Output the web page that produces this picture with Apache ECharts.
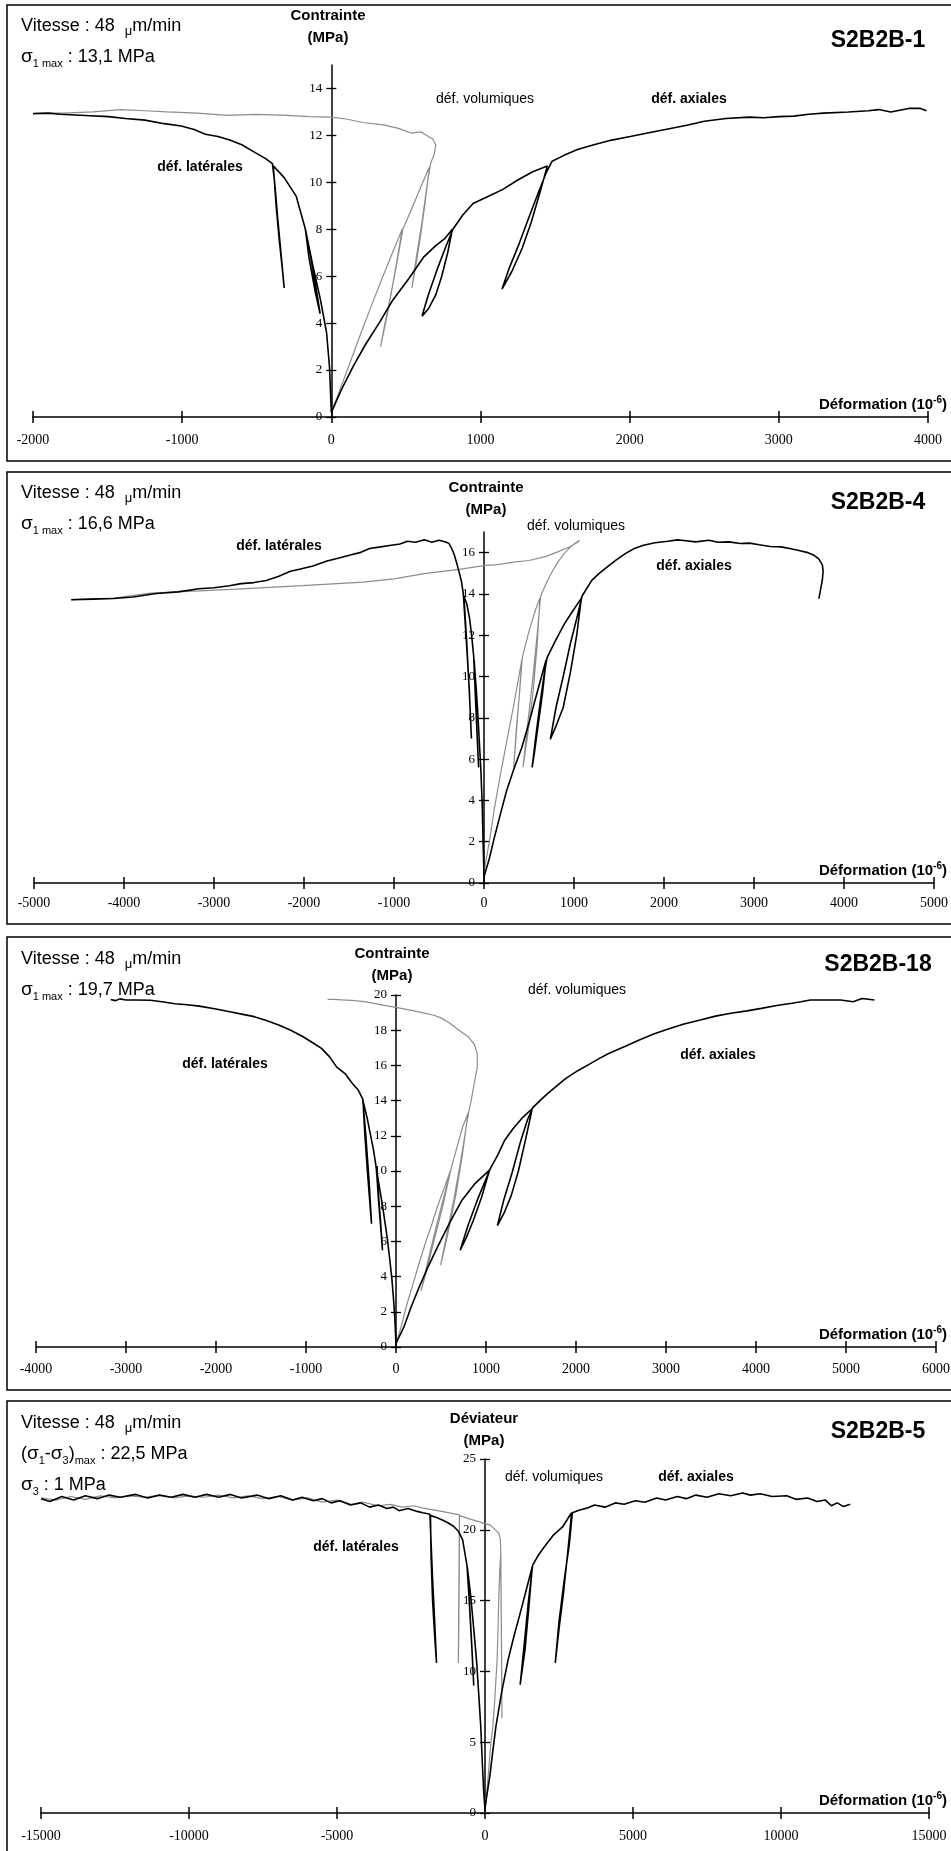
<!DOCTYPE html>
<html><head><meta charset="utf-8">
<script src="https://cdn.jsdelivr.net/npm/echarts@6/dist/echarts.min.js"></script>
<style>html,body{margin:0;padding:0;background:#fff}#c{width:951px;height:1851px}</style>
</head><body><div id="c"></div>
<script>
// ---------------- DATA ----------------
// Panel 1 : S2B2B-1  (strain 1e-6, stress MPa)
const p1XRange = [-2000, 4000, 1000];
const p1YTicks = [0,2,4,6,8,10,12,14];
const p1Lateral = [[0,0.2],[-12,2.1],[-32,3.6],[-73,5.0],[-122,6.4],[-174,8.0],[-150,6.8],[-110,5.4],[-75,4.4],[-95,5.2],[-140,6.9],[-178,8.1],[-235,9.4],[-316,10.2],[-389,10.7],[-370,9.0],[-350,7.6],[-330,6.4],[-316,5.5],[-335,6.8],[-360,8.5],[-380,10.0],[-395,10.8],[-438,11.0],[-519,11.3],[-600,11.6],[-681,11.8],[-760,11.95],[-844,12.05],[-920,12.25],[-1006,12.4],[-1120,12.5],[-1250,12.65],[-1380,12.72],[-1493,12.8],[-1650,12.85],[-1817,12.9],[-1900,12.95],[-2000,12.92]];
const p1Volumetric = [[0,0.2],[60,1.2],[130,2.4],[200,3.6],[272,4.8],[340,5.9],[410,7.0],[475,8.0],[430,6.3],[380,4.5],[330,3.0],[360,4.0],[420,5.9],[480,8.0],[540,8.9],[600,9.8],[657,10.65],[630,9.2],[600,7.8],[570,6.6],[540,5.5],[570,6.8],[610,8.4],[640,9.8],[665,10.8],[690,11.2],[700,11.6],[680,11.85],[640,12.0],[600,12.15],[535,12.1],[450,12.3],[350,12.45],[211,12.55],[100,12.7],[0,12.78],[-150,12.8],[-300,12.85],[-500,12.9],[-700,12.85],[-900,12.95],[-1100,13.0],[-1250,13.05],[-1412,13.1],[-1600,13.0],[-1800,12.95],[-2000,12.95]];
const p1Axial = [[0,0.2],[70,1.2],[150,2.2],[230,3.1],[320,4.0],[414,5.0],[520,5.9],[617,6.8],[700,7.3],[760,7.6],[811,8.0],[780,7.0],[740,6.0],[700,5.2],[650,4.6],[608,4.3],[650,5.2],[710,6.3],[770,7.3],[815,8.0],[880,8.6],[950,9.1],[1050,9.4],[1150,9.7],[1250,10.1],[1350,10.45],[1448,10.7],[1400,9.6],[1340,8.3],[1280,7.2],[1210,6.2],[1144,5.45],[1190,6.3],[1260,7.4],[1330,8.6],[1390,9.6],[1440,10.4],[1480,10.9],[1560,11.15],[1650,11.4],[1760,11.6],[1880,11.8],[2004,11.95],[2120,12.1],[2240,12.25],[2400,12.45],[2500,12.6],[2645,12.72],[2800,12.78],[2900,12.75],[3000,12.8],[3100,12.82],[3200,12.9],[3300,12.95],[3466,13.0],[3600,13.05],[3670,13.1],[3750,13.0],[3870,13.15],[3950,13.15],[3990,13.05]];

// Panel 2 : S2B2B-4
const p2XRange = [-5000, 5000, 1000];
const p2YTicks = [0,2,4,6,8,10,12,14,16];
const p2Lateral = [[0,0.3],[-10,2.0],[-20,3.8],[-35,5.5],[-54,7.0],[-70,8.3],[-88,9.5],[-110,10.8],[-90,8.5],[-70,6.5],[-60,5.6],[-80,7.5],[-100,9.5],[-115,11.0],[-135,11.9],[-160,12.8],[-190,13.5],[-223,13.9],[-190,11.5],[-160,9.0],[-140,7.0],[-165,9.5],[-200,12.0],[-230,14.0],[-250,14.6],[-291,15.3],[-330,15.9],[-359,16.2],[-390,16.45],[-426,16.52],[-500,16.6],[-580,16.5],[-663,16.62],[-760,16.5],[-850,16.55],[-934,16.42],[-1050,16.35],[-1150,16.28],[-1272,16.2],[-1380,16.0],[-1475,15.9],[-1600,15.75],[-1745,15.6],[-1900,15.35],[-2050,15.2],[-2151,15.1],[-2286,14.85],[-2420,14.65],[-2557,14.55],[-2700,14.5],[-2828,14.4],[-3000,14.3],[-3166,14.25],[-3400,14.1],[-3640,14.02],[-3900,13.85],[-4113,13.78],[-4350,13.75],[-4587,13.72]];
const p2Volumetric = [[0,0.3],[14,0.9],[60,2.0],[115,3.6],[180,5.2],[250,6.8],[330,8.6],[420,10.8],[390,9.0],[360,7.3],[330,5.6],[360,7.5],[395,9.2],[425,10.9],[500,12.2],[570,13.2],[622,13.8],[590,11.5],[540,9.0],[480,7.0],[433,5.6],[480,7.5],[540,9.8],[590,12.0],[630,13.9],[700,14.6],[760,15.1],[830,15.6],[900,16.0],[980,16.35],[1040,16.5],[1062,16.6],[961,16.3],[800,16.0],[690,15.82],[500,15.62],[352,15.55],[150,15.42],[14,15.38],[-257,15.2],[-663,14.98],[-1000,14.73],[-1340,14.57],[-2016,14.4],[-2693,14.25],[-3166,14.15],[-3708,14.04],[-4113,13.8],[-4587,13.72]];
const p2Axial = [[0,0.3],[60,1.2],[115,2.2],[180,3.3],[250,4.45],[330,5.5],[420,6.56],[490,7.6],[555,8.66],[620,9.7],[690,10.8],[650,9.2],[600,7.6],[560,6.3],[535,5.6],[570,6.9],[620,8.6],[665,10.0],[700,10.9],[790,11.7],[893,12.55],[990,13.2],[1082,13.8],[1030,12.0],[960,10.2],[880,8.5],[800,7.6],[737,6.96],[800,8.5],[880,10.0],[960,11.6],[1030,12.8],[1090,13.9],[1197,14.66],[1280,15.0],[1367,15.3],[1470,15.65],[1570,15.95],[1670,16.2],[1773,16.36],[1900,16.48],[2043,16.55],[2150,16.62],[2246,16.58],[2350,16.52],[2500,16.6],[2600,16.5],[2720,16.52],[2850,16.44],[2950,16.46],[3058,16.38],[3180,16.3],[3300,16.28],[3396,16.2],[3500,16.1],[3600,16.0],[3667,15.87],[3720,15.7],[3760,15.4],[3768,15.1],[3760,14.7],[3748,14.4],[3721,13.77]];

// Panel 3 : S2B2B-18
const p3XRange = [-4000, 6000, 1000];
const p3YTicks = [0,2,4,6,8,10,12,14,16,18,20];
const p3Lateral = [[0,0.2],[-14,1.7],[-30,2.9],[-48,4.0],[-70,5.0],[-95,6.1],[-120,7.0],[-149,8.0],[-185,9.1],[-217,10.1],[-195,8.4],[-170,6.8],[-150,5.5],[-170,7.0],[-195,8.7],[-220,10.2],[-250,11.2],[-285,12.1],[-320,13.0],[-367,14.0],[-345,12.0],[-318,10.0],[-295,8.5],[-272,7.0],[-300,9.5],[-335,12.0],[-370,14.1],[-420,14.6],[-489,15.0],[-560,15.5],[-658,15.9],[-740,16.5],[-828,16.97],[-930,17.3],[-1032,17.63],[-1170,18.0],[-1303,18.3],[-1440,18.55],[-1575,18.77],[-1700,18.9],[-1847,19.05],[-2000,19.2],[-2186,19.37],[-2320,19.45],[-2458,19.5],[-2600,19.62],[-2730,19.7],[-2900,19.72],[-3000,19.72],[-3069,19.78],[-3120,19.68],[-3170,19.75]];
const p3Volumetric = [[0,0.2],[54,1.1],[120,2.4],[190,3.6],[260,4.8],[326,5.9],[400,7.0],[462,8.0],[540,9.1],[611,10.1],[520,8.0],[420,6.0],[340,4.3],[278,3.2],[350,4.8],[450,6.9],[540,8.7],[615,10.2],[680,11.4],[740,12.5],[801,13.3],[740,11.0],[670,8.8],[600,7.0],[540,5.6],[496,4.65],[560,6.3],[640,8.3],[720,10.6],[780,12.5],[810,13.4],[835,14.0],[870,15.0],[903,15.9],[903,16.68],[870,17.2],[801,17.63],[700,18.0],[598,18.4],[500,18.7],[420,18.85],[326,18.96],[200,19.1],[100,19.2],[0,19.3],[-100,19.38],[-217,19.5],[-350,19.62],[-489,19.7],[-600,19.72],[-700,19.75],[-760,19.75]];
const p3Axial = [[0,0.2],[88,1.14],[170,2.3],[258,3.41],[360,4.6],[462,5.69],[600,7.1],[733,8.34],[880,9.3],[1039,10.05],[950,8.5],[860,7.2],[780,6.2],[713,5.5],[800,6.9],[900,8.3],[980,9.3],[1045,10.1],[1130,10.9],[1208,11.75],[1300,12.4],[1400,13.0],[1514,13.55],[1440,11.8],[1360,10.0],[1280,8.6],[1200,7.6],[1127,6.9],[1200,8.4],[1290,9.9],[1380,11.6],[1460,12.9],[1520,13.6],[1600,14.0],[1684,14.4],[1790,14.85],[1888,15.26],[2020,15.7],[2160,16.1],[2260,16.4],[2363,16.68],[2530,17.05],[2703,17.44],[2870,17.8],[3042,18.1],[3200,18.35],[3381,18.58],[3550,18.8],[3721,18.96],[3900,19.1],[4060,19.24],[4230,19.4],[4400,19.53],[4500,19.62],[4603,19.72],[4800,19.72],[4942,19.72],[5078,19.62],[5180,19.8],[5316,19.72]];

// Panel 4 : S2B2B-5 (deviator)
const p4XRange = [-15000, 15000, 5000];
const p4YTicks = [0,5,10,15,20,25];
const p4Lateral = [[0,0.3],[-41,1.4],[-90,3.5],[-143,6.1],[-215,8.5],[-287,10.8],[-380,13.0],[-491,15.5],[-600,17.4],[-520,14.5],[-440,11.5],[-380,9.0],[-450,12.0],[-530,15.0],[-610,17.5],[-700,18.6],[-757,19.3],[-900,19.9],[-1064,20.25],[-1300,20.55],[-1500,20.75],[-1679,20.9],[-1843,21.0],[-1820,18.0],[-1770,15.0],[-1700,12.5],[-1638,10.6],[-1700,13.5],[-1770,16.5],[-1830,19.5],[-1860,21.1],[-2100,21.2],[-2293,21.3],[-2600,21.5],[-2900,21.35],[-3100,21.6],[-3316,21.5],[-3600,21.75],[-3900,21.6],[-4200,21.9],[-4545,21.75],[-4900,22.05],[-5200,21.9],[-5500,22.2],[-5800,22.05],[-6182,22.3],[-6500,22.1],[-6900,22.4],[-7300,22.2],[-7700,22.45],[-8229,22.25],[-8600,22.5],[-9000,22.3],[-9400,22.5],[-9800,22.3],[-10200,22.5],[-10600,22.3],[-11000,22.45],[-11400,22.25],[-11800,22.5],[-12323,22.3],[-12700,22.45],[-13100,22.2],[-13500,22.4],[-13900,22.1],[-14300,22.35],[-14700,22.0],[-15000,22.2]];
const p4Volumetric = [[0,0.3],[60,1.4],[123,3.0],[200,5.0],[266,6.1],[330,8.0],[409,10.8],[440,13.0],[470,15.5],[500,17.2],[532,18.35],[545,14.5],[560,10.5],[573,6.7],[565,10.0],[550,14.0],[535,18.4],[520,19.3],[470,19.76],[300,20.1],[164,20.35],[-50,20.45],[-246,20.6],[-500,20.75],[-860,21.0],[-870,17.0],[-885,13.0],[-900,10.6],[-890,14.0],[-875,18.0],[-865,21.05],[-1200,21.2],[-1600,21.35],[-2088,21.53],[-2400,21.7],[-2800,21.6],[-3200,21.8],[-3600,21.7],[-4135,21.95],[-4500,21.8],[-5000,22.1],[-5500,21.95],[-6000,22.25],[-6500,22.1],[-7000,22.35],[-7500,22.2],[-8000,22.4],[-8500,22.25],[-9000,22.45],[-9500,22.3],[-10000,22.4],[-10500,22.25],[-11000,22.45],[-11500,22.3],[-12000,22.4],[-12500,22.25],[-13000,22.4],[-13500,22.15],[-14000,22.35],[-14500,22.1],[-15000,22.25]];
const p4Axial = [[0,0.3],[80,1.5],[164,2.6],[260,4.3],[368,6.1],[560,8.5],[778,10.8],[980,12.5],[1187,14.1],[1400,15.8],[1597,17.4],[1480,14.5],[1350,11.5],[1187,9.06],[1330,12.0],[1470,15.0],[1610,17.5],[1800,18.2],[2006,18.8],[2300,19.6],[2620,20.2],[2800,20.8],[2927,21.2],[2800,18.5],[2650,15.5],[2500,13.0],[2374,10.6],[2500,13.5],[2680,16.5],[2850,19.0],[2950,21.2],[3200,21.4],[3439,21.53],[3700,21.75],[4053,21.6],[4400,21.9],[4700,21.8],[5077,22.05],[5400,21.95],[5800,22.25],[6100,22.1],[6500,22.35],[6800,22.2],[7124,22.45],[7500,22.3],[7900,22.55],[8300,22.4],[8700,22.6],[8966,22.45],[9300,22.55],[9700,22.35],[10194,22.4],[10500,22.15],[10900,22.25],[11218,22.0],[11500,22.1],[11700,21.7],[11900,21.9],[12100,21.65],[12343,21.8]];

// ---------------- LAYOUT ----------------
const SANS = '"Liberation Sans", Arial, Helvetica, sans-serif';
const SERIF = '"Liberation Serif", "Times New Roman", serif';
const panels = [
  {grid:{left:33, top:65, width:895, height:352}, xr:p1XRange, yMax:15, yt:p1YTicks, xm:16, lat:p1Lateral, vol:p1Volumetric, ax:p1Axial},
  {grid:{left:34, top:532, width:900, height:351}, xr:p2XRange, yMax:17, yt:p2YTicks, xm:13, lat:p2Lateral, vol:p2Volumetric, ax:p2Axial},
  {grid:{left:36, top:995, width:900, height:352}, xr:p3XRange, yMax:20, yt:p3YTicks, xm:15, lat:p3Lateral, vol:p3Volumetric, ax:p3Axial},
  {grid:{left:41, top:1459, width:888, height:354}, xr:p4XRange, yMax:25, yt:p4YTicks, xm:16, lat:p4Lateral, vol:p4Volumetric, ax:p4Axial}
];

const grids = [], xAxes = [], yAxes = [], series = [];
const lineC = '#000';
function makeY(p, i, offset) {
  const yBase = {gridIndex:i, type:'value', min:0, max:p.yMax, splitLine:{show:false}, position:'left', offset:offset};
  return [
    Object.assign({}, yBase, {
      axisLine:{show:true, onZero:false, lineStyle:{color:lineC, width:1.5}},
      axisTick:{show:true, inside:false, length:5, customValues:p.yt, lineStyle:{color:lineC, width:1.3}},
      axisLabel:{show:true, margin:9, color:'#000', fontFamily:SERIF, fontSize:13, customValues:p.yt, formatter:v => String(v)}
    }),
    Object.assign({}, yBase, {
      axisLine:{show:false, onZero:false},
      axisTick:{show:true, inside:true, length:5, customValues:p.yt, lineStyle:{color:lineC, width:1.3}},
      axisLabel:{show:false}
    })
  ];
}
panels.forEach((p, i) => {
  grids.push(Object.assign({outerBoundsMode:'none', containLabel:false}, p.grid));
  const xBase = {gridIndex:i, type:'value', min:p.xr[0], max:p.xr[1], interval:p.xr[2], splitLine:{show:false}, position:'bottom'};
  xAxes.push(Object.assign({}, xBase, {
    axisLine:{show:true, onZero:false, lineStyle:{color:lineC, width:1.5}},
    axisTick:{show:true, inside:false, length:6, lineStyle:{color:lineC, width:1.5}},
    axisLabel:{show:true, margin:p.xm, color:'#000', fontFamily:SERIF, fontSize:14, formatter:v => String(v)}
  }));
  xAxes.push(Object.assign({}, xBase, {
    axisLine:{show:false, onZero:false},
    axisTick:{show:true, inside:true, length:6, lineStyle:{color:lineC, width:1.5}},
    axisLabel:{show:false}
  }));
  makeY(p, i, 0).forEach(a => yAxes.push(a));
  const mk = (name, data, color, width) => ({
    type:'line', name, xAxisIndex:2*i, yAxisIndex:2*i, data, showSymbol:false, symbol:'none',
    lineStyle:{color, width}, silent:true, animation:false, clip:true
  });
  series.push(mk('déf. volumiques', p.vol, '#8c8c8c', 1.2));
  series.push(mk('déf. latérales', p.lat, '#000', 1.6));
  series.push(mk('déf. axiales', p.ax, '#000', 1.6));
});

// ---------------- TEXT ----------------
const richBase = {
  a:{fontSize:18, fontFamily:SANS, lineHeight:24, fill:'#000'},
  g:{fontSize:19, fontFamily:SANS, lineHeight:24, fill:'#000'},
  s:{fontSize:11, fontFamily:SANS, lineHeight:10, verticalAlign:'bottom', fill:'#000'},
  m:{fontSize:13, fontFamily:SANS, lineHeight:17, verticalAlign:'bottom', fill:'#000'},
  b:{fontSize:15, fontFamily:SANS, fontWeight:'bold', lineHeight:20, fill:'#000'},
  p:{fontSize:10, fontFamily:SANS, fontWeight:'bold', lineHeight:10, verticalAlign:'top', fill:'#000'}
};
function rt(x, y, text, align) {
  return {type:'text', x, y, z:10, silent:true, style:{text, rich:richBase, align:align||'left', verticalAlign:'middle'}};
}
function tx(x, y, text, size, weight, align) {
  return {type:'text', x, y, z:10, silent:true, style:{text, fill:'#000', fontFamily:SANS, fontSize:size, fontWeight:weight||'normal', align:align||'center', verticalAlign:'middle'}};
}
const graphics = [];
[[7,5,470-14],[7,472,924-472],[7,937,1390-937],[7,1401,480]].forEach(r => {
  graphics.push({type:'rect', z:1, silent:true, shape:{x:r[0], y:r[1], width:980, height:r[2]}, style:{fill:'none', stroke:'#000', lineWidth:1.5}});
});
const panelText = [
  {dy:0,   ty:41,   yy:16,   name:'S2B2B-1', yn:'Contrainte', yx:328, sig:'{g|σ}{s|1 max}{a| : 13,1 MPa}', vol:[485,99], ax:[689,99], lat:[200,167]},
  {dy:467, ty:503,  yy:488,  name:'S2B2B-4', yn:'Contrainte', yx:486, sig:'{g|σ}{s|1 max}{a| : 16,6 MPa}', vol:[576,526], ax:[694,566], lat:[279,546]},
  {dy:933, ty:965,  yy:954,  name:'S2B2B-18', yn:'Contrainte', yx:392, sig:'{g|σ}{s|1 max}{a| : 19,7 MPa}', vol:[577,990], ax:[718,1055], lat:[225,1064]},
  {dy:1397, ty:1432, yy:1419, name:'S2B2B-5', yn:'Déviateur', yx:484, sig:'{a|(}{g|σ}{s|1}{a|-}{g|σ}{s|3}{a|)}{s|max}{a| : 22,5 MPa}', vol:[554,1477], ax:[696,1477], lat:[356,1547]}
];
const axisYs = [417, 883, 1347, 1813];
panelText.forEach((t, i) => {
  graphics.push(rt(21, 26 + t.dy, '{a|Vitesse : 48  }{m|μ}{a|m/min}'));
  graphics.push(rt(21, 57 + t.dy, t.sig));
  if (i === 3) graphics.push(rt(21, 88 + t.dy, '{g|σ}{s|3}{a| : 1 MPa}'));
  graphics.push(tx(878, t.ty, t.name, 23, 'bold'));
  graphics.push(tx(t.yx, t.yy, t.yn, 15, 'bold'));
  graphics.push(tx(t.yx, t.yy + 22, '(MPa)', 15, 'bold'));
  graphics.push(tx(t.vol[0], t.vol[1], 'déf. volumiques', 14, 'normal'));
  graphics.push(tx(t.ax[0], t.ax[1], 'déf. axiales', 14, 'bold'));
  graphics.push(tx(t.lat[0], t.lat[1], 'déf. latérales', 14, 'bold'));
  graphics.push(rt(947, axisYs[i] - 12, '{b|Déformation (10}{p|-6}{b|)}', 'right'));
});

const chart = echarts.init(document.getElementById('c'), null, {renderer:'canvas', width:951, height:1851});
chart.setOption({
  animation:false,
  backgroundColor:'#fff',
  textStyle:{fontFamily:SANS},
  grid:grids, xAxis:xAxes, yAxis:yAxes, series,
  graphic:{elements:graphics}
});
// place each vertical axis on strain = 0, using the library's own x scale
const newY = [];
panels.forEach((p, i) => {
  const px0 = chart.convertToPixel({xAxisIndex:2*i}, 0);
  makeY(p, i, -(px0 - p.grid.left)).forEach(a => newY.push(a));
});
chart.setOption({yAxis:newY});
</script></body></html>
